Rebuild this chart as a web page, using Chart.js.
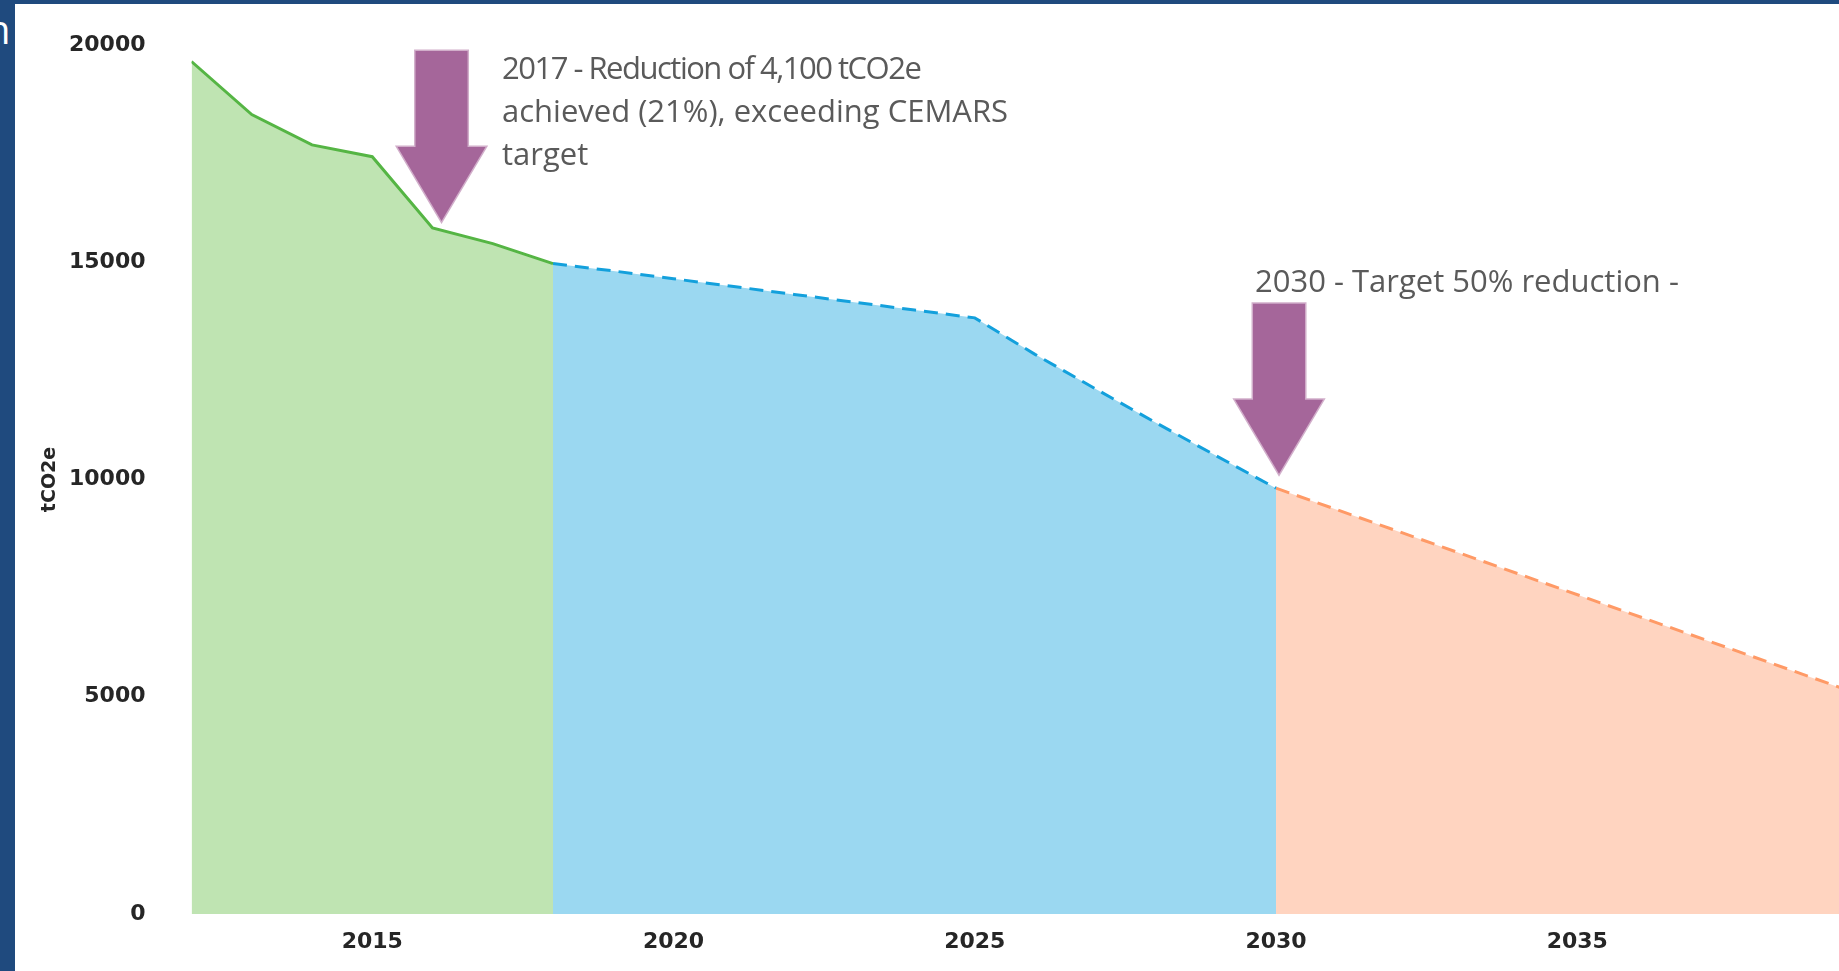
<!DOCTYPE html>
<html>
<head>
<meta charset="utf-8">
<script src="https://cdn.jsdelivr.net/npm/chart.js@4.4.1/dist/chart.umd.min.js"></script>
<style>
  body { margin: 0; background: #1f4a7e; overflow: hidden; width: 1839px; height: 971px; position: relative; }
  #panel { position: absolute; left: 15px; top: 4px; width: 1824px; height: 967px; background: #fff; }
  #chart { display: block; }
  .note { position: absolute; font-family: "Open Sans", sans-serif; font-size: 31px; line-height: 43px; color: #5a5a5a; white-space: nowrap; }
  .tight { letter-spacing: -1.5px; }
  #edgeText { position: absolute; left: -14px; top: 9px; font-family: "Open Sans", sans-serif; font-size: 40px; line-height: 40px; color: #fff; }
</style>
</head>
<body>
<div id="edgeText">n</div>
<div id="panel"><canvas id="chart" width="1824" height="967"></canvas></div>
<div class="note" style="left:502px; top:46px;"><span class="tight">2017 - Reduction of 4,100 tCO2e</span><br>achieved (21%), exceeding CEMARS<br>target</div>
<div class="note" style="left:1255px; top:259px;">2030 - Target 50% reduction -</div>
<script>
// measured emissions (solid green)
const actualYears = [2012, 2013, 2014, 2015, 2016, 2017, 2018];
const actualValues = [19620, 18400, 17700, 17430, 15790, 15430, 14970];

// projected path to the 2030 target (dashed blue)
const targetYears = [2018, 2019, 2020, 2021, 2022, 2023, 2024, 2025, 2026, 2027, 2028, 2029, 2030];
const targetValues = [14970, 14800, 14620, 14440, 14260, 14080, 13900, 13720, 12880, 12090, 11310, 10550, 9800];

// beyond 2030 (dashed orange)
const futureYears = [2030, 2040];
const futureValues = [9800, 4900];

const xTicks = [2015, 2020, 2025, 2030, 2035];
const yTicks = [0, 5000, 10000, 15000, 20000];

// where the two arrows point
const arrowYears = [2016.15, 2030.05];
const arrowValues = [15950, 10130];

function toPoints(xs, ys) {
  return xs.map((x, i) => ({ x: x, y: ys[i] }));
}

const arrowPlugin = {
  id: 'arrows',
  afterDatasetsDraw(chart) {
    const ctx = chart.ctx;
    const xs = chart.scales.x;
    const ys = chart.scales.y;
    const shaft = 26, head = 44, headLen = 74, total = 170;
    arrowYears.forEach((yr, i) => {
      const tx = xs.getPixelForValue(yr);
      const ty = ys.getPixelForValue(arrowValues[i]);
      ctx.save();
      ctx.beginPath();
      ctx.moveTo(tx - shaft, ty - total);
      ctx.lineTo(tx + shaft, ty - total);
      ctx.lineTo(tx + shaft, ty - headLen);
      ctx.lineTo(tx + head, ty - headLen);
      ctx.lineTo(tx, ty);
      ctx.lineTo(tx - head, ty - headLen);
      ctx.lineTo(tx - shaft, ty - headLen);
      ctx.closePath();
      ctx.lineWidth = 3;
      ctx.strokeStyle = 'rgba(190,140,180,0.7)';
      ctx.stroke();
      ctx.fillStyle = '#a5669a';
      ctx.fill();
      ctx.restore();
    });
  }
};

const tickFont = { family: 'DejaVu Sans', size: 22, weight: 'bold' };

new Chart(document.getElementById('chart').getContext('2d'), {
  type: 'line',
  data: {
    datasets: [
      {
        data: toPoints(actualYears, actualValues),
        borderColor: '#55b544',
        backgroundColor: '#bfe4b2',
        borderWidth: 3,
        fill: 'origin',
        pointRadius: 0,
        tension: 0
      },
      {
        data: toPoints(targetYears, targetValues),
        borderColor: '#13a0dc',
        backgroundColor: '#9bd8f1',
        borderWidth: 3,
        borderDash: [14, 8],
        fill: 'origin',
        pointRadius: 0,
        tension: 0
      },
      {
        data: toPoints(futureYears, futureValues),
        borderColor: '#ff9a66',
        backgroundColor: '#ffd4c0',
        borderWidth: 3,
        borderDash: [14, 8],
        fill: 'origin',
        pointRadius: 0,
        tension: 0
      }
    ]
  },
  options: {
    responsive: false,
    animation: false,
    layout: { padding: { top: 41, right: 0, bottom: 0, left: 0 } },
    plugins: {
      legend: { display: false },
      tooltip: { enabled: false }
    },
    scales: {
      x: {
        type: 'linear',
        min: 2012,
        max: 2039.344,
        grid: { display: false, drawTicks: false },
        border: { display: false },
        afterBuildTicks: s => { s.ticks = xTicks.map(v => ({ value: v })); },
        afterFit: s => { s.height = 57; s.paddingLeft = 0; s.paddingRight = 0; },
        ticks: {
          font: tickFont,
          color: '#262626',
          padding: 15,
          maxRotation: 0,
          callback: v => String(v)
        }
      },
      y: {
        min: 0,
        max: 20000,
        grid: { display: false, drawTicks: false },
        border: { display: false },
        afterBuildTicks: s => { s.ticks = yTicks.map(v => ({ value: v })); },
        afterFit: s => { s.width = 176.5; s.paddingTop = 0; s.paddingBottom = 0; },
        title: {
          display: true,
          text: 'tCO2e',
          color: '#262626',
          font: { family: 'DejaVu Sans', size: 19, weight: 'bold' },
          padding: { top: 24, bottom: 0 }
        },
        ticks: {
          font: tickFont,
          color: '#262626',
          padding: 46,
          callback: v => String(v)
        }
      }
    }
  },
  plugins: [arrowPlugin]
});
</script>
</body>
</html>
